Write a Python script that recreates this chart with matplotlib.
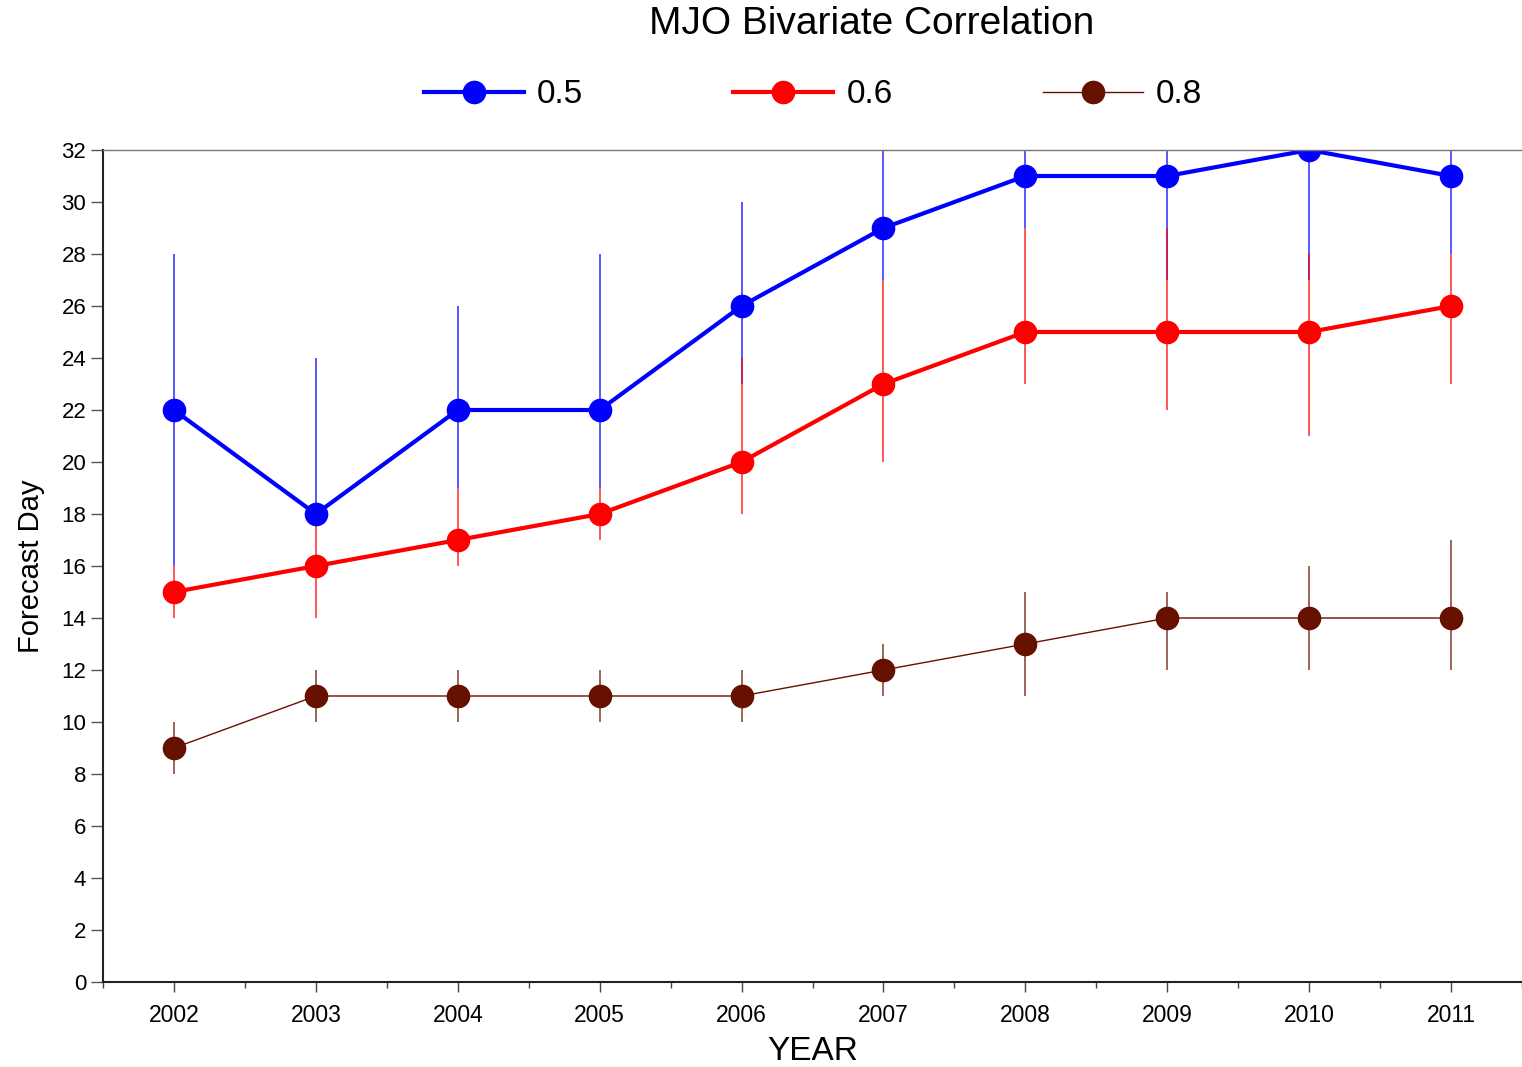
import matplotlib
matplotlib.use("Agg")
import matplotlib.pyplot as plt
from matplotlib.ticker import MultipleLocator

plt.rcParams['font.family'] = ['Liberation Sans', 'DejaVu Sans']

years = [2002, 2003, 2004, 2005, 2006, 2007, 2008, 2009, 2010, 2011]

# forecast day where correlation stays above threshold, with lower / upper range
corr05 = [22, 18, 22, 22, 26, 29, 31, 31, 32, 31]
corr05_lo = [16, 18, 19, 19, 23, 27, 29, 27, 27, 28]
corr05_hi = [28, 24, 26, 28, 30, 32, 32, 32, 32, 32]

corr06 = [15, 16, 17, 18, 20, 23, 25, 25, 25, 26]
corr06_lo = [14, 14, 16, 17, 18, 20, 23, 22, 21, 23]
corr06_hi = [16, 18, 19, 19, 24, 27, 29, 29, 28, 28]

corr08 = [9, 11, 11, 11, 11, 12, 13, 14, 14, 14]
corr08_lo = [8, 10, 10, 10, 10, 11, 11, 12, 12, 12]
corr08_hi = [10, 12, 12, 12, 12, 13, 15, 15, 16, 17]

series = [
    ('0.5', corr05, corr05_lo, corr05_hi, '#0000ff', 3.0),
    ('0.6', corr06, corr06_lo, corr06_hi, '#ff0000', 3.0),
    ('0.8', corr08, corr08_lo, corr08_hi, '#661100', 1.0),
]

fig = plt.figure(figsize=(15.22, 10.67), dpi=100)
ax = fig.add_axes([103 / 1522, 1 - 982 / 1067, 1 - 103 / 1522, (982 - 150) / 1067])

handles = []
names = []
for name, vals, lo, hi, color, lw in series:
    err = [[v - l for v, l in zip(vals, lo)], [h - v for v, h in zip(vals, hi)]]
    cont = ax.errorbar(years, vals, yerr=err, color=color, lw=lw, marker='o',
                       markersize=16, ecolor=color, elinewidth=1.3, capsize=0)
    cont[2][0].set_alpha(0.7)
    handles.append(cont[0])
    names.append(name)

ax.set_xlim(2001.5, 2011.5)
ax.set_ylim(0, 32)
ax.xaxis.set_major_locator(MultipleLocator(1))
ax.xaxis.set_minor_locator(MultipleLocator(0.5))
ax.yaxis.set_major_locator(MultipleLocator(2))

ax.tick_params(axis='x', which='major', length=7, width=1, color='#444444',
               labelsize=16.5, pad=9)
ax.tick_params(axis='x', which='minor', length=4.5, width=1, color='#444444')
ax.tick_params(axis='y', length=9, width=1, color='#555555', labelsize=16, pad=3)

ax.spines['right'].set_visible(False)
ax.spines['top'].set_color('#777777')
ax.spines['top'].set_linewidth(1)
for s in ('left', 'bottom'):
    ax.spines[s].set_color('#222222')
    ax.spines[s].set_linewidth(1.5)

ax.set_xlabel('YEAR', fontsize=24, labelpad=6)
ax.set_ylabel('Forecast Day', fontsize=21, labelpad=12)

fig.text(872 / 1522, 1 - 24 / 1067, 'MJO Bivariate Correlation', fontsize=28,
         ha='center', va='center')

fig.legend(handles=handles, labels=names, loc='center',
           bbox_to_anchor=(813 / 1522, 1 - 95 / 1067),
           ncol=3, frameon=False, fontsize=24, handlelength=3.0,
           handletextpad=0.4, columnspacing=4.5)

fig.savefig('out.png', dpi=100)
